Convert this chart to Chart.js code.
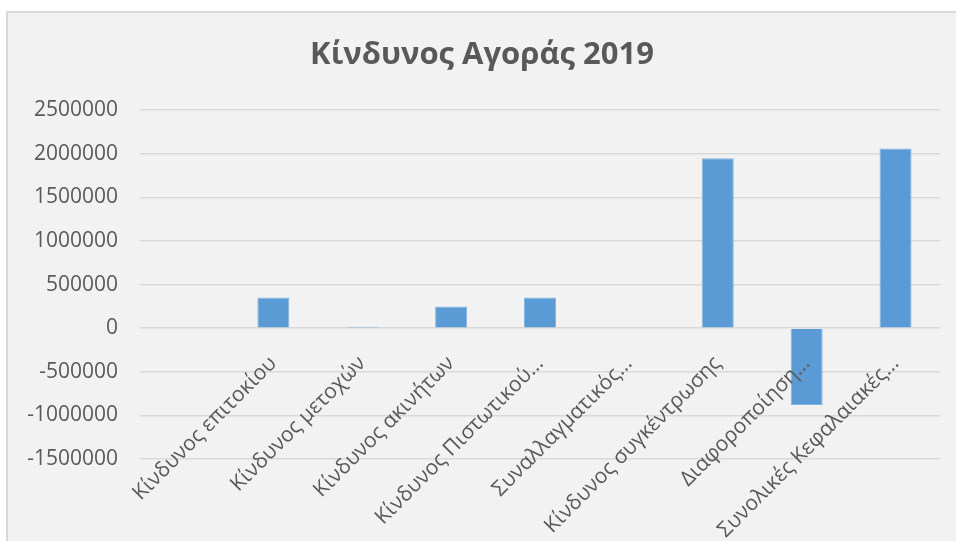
<!DOCTYPE html>
<html>
<head>
<meta charset="utf-8">
<script src="https://cdn.jsdelivr.net/npm/chart.js@4/dist/chart.umd.min.js"></script>
<style>
  html, body { margin: 0; padding: 0; background: #ffffff; }
  #frame {
    position: absolute; left: 6px; top: 11px; width: 950px; height: 530px;
    border-top: 2px solid #d9d9d9; border-left: 2px solid #d9d9d9;
    background: #f2f2f2;
  }
  #wrap { position: absolute; left: 0; top: 0; width: 948px; height: 528px; }
</style>
</head>
<body>
<div id="frame"><div id="wrap"><canvas id="chart"></canvas></div></div>
<script>
const chartTitle = "Κίνδυνος Αγοράς 2019";

const categories = [
  "",
  "Κίνδυνος επιτοκίου",
  "Κίνδυνος μετοχών",
  "Κίνδυνος ακινήτων",
  "Κίνδυνος Πιστωτικού…",
  "Συναλλαγματικός…",
  "Κίνδυνος συγκέντρωσης",
  "Διαφοροποίηση…",
  "Συνολικές Κεφαλαιακές…"
];

const values = [null, 352000, 18000, 248000, 352000, 0, 1948000, -880000, 2062000];

const yMin = -1500000;
const yMax = 2500000;
const yStep = 500000;

const grey = "#595959";
const font = "'Open Sans', 'Noto Sans', sans-serif";

const ctx = document.getElementById("chart");

new Chart(ctx, {
  type: "bar",
  data: {
    labels: categories,
    datasets: [
      {
        label: chartTitle,
        data: values,
        backgroundColor: "#5b9bd5",
        borderColor: "#84b4e0",
        borderWidth: 1,
        categoryPercentage: 1.0,
        barPercentage: 0.36,
      },
    ],
  },
  options: {
    responsive: true,
    maintainAspectRatio: false,
    animation: false,
    layout: {
      // left padding nudges the title right; y axis width reduced to keep the plot in place
      padding: { left: 16, right: 16, top: 0, bottom: 82 },
    },
    plugins: {
      legend: { display: false },
      tooltip: { enabled: false },
      title: {
        display: true,
        text: chartTitle,
        color: grey,
        font: { family: font, size: 31, weight: "bold" },
        padding: { top: 24, bottom: 36 },
      },
    },
    scales: {
      x: {
        position: { y: 0 },
        grid: { display: false },
        border: { display: false },
        ticks: {
          z: 1, // labels over the bars
          color: grey,
          font: { family: font, size: 21 },
          minRotation: 45,
          maxRotation: 45,
          autoSkip: false,
          padding: 15,
        },
      },
      y: {
        min: yMin,
        max: yMax,
        grid: { color: "#d9d9d9", lineWidth: 1.5, drawTicks: false },
        border: { display: false },
        ticks: {
          stepSize: yStep,
          color: grey,
          font: { family: font, size: 21 },
          padding: 22,
          callback: (v) => String(v),
        },
        afterFit: (scale) => { scale.width = 116; },
      },
    },
  },
});
</script>
</body>
</html>
